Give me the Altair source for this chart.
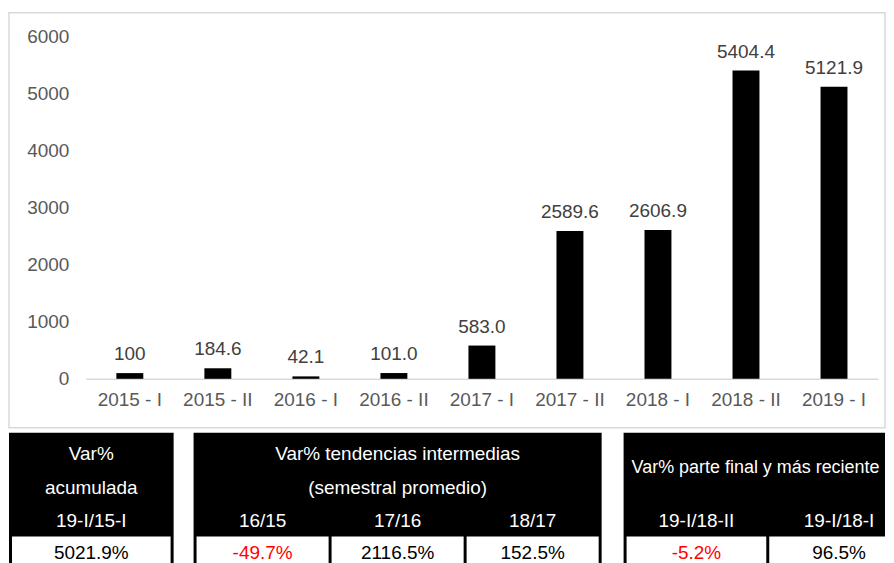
import altair as alt
import pandas as pd

FONT = "Liberation Sans"

periods = ["2015 - I", "2015 - II", "2016 - I", "2016 - II", "2017 - I",
           "2017 - II", "2018 - I", "2018 - II", "2019 - I"]
values = [100, 184.6, 42.1, 101.0, 583.0, 2589.6, 2606.9, 5404.4, 5121.9]
labels = ["100", "184.6", "42.1", "101.0", "583.0", "2589.6", "2606.9", "5404.4", "5121.9"]
y_ticks = [0, 1000, 2000, 3000, 4000, 5000, 6000]

acc_header = ["Var%", "acumulada"]
acc_cols = ["19-I/15-I"]
acc_vals = [5021.9]
mid_header = ["Var% tendencias intermedias", "(semestral promedio)"]
mid_cols = ["16/15", "17/16", "18/17"]
mid_vals = [-49.7, 2116.5, 152.5]
fin_header = ["Var% parte final y más reciente"]
fin_cols = ["19-I/18-II", "19-I/18-I"]
fin_vals = [-5.2, 96.5]

ROWS = ["r0", "r1", "r2", "r3"]
FS = 19

# ---------------- bar chart ----------------
bar_df = pd.DataFrame({"period": periods, "value": values, "label": labels})

x_enc = alt.X(
    "period:N", sort=periods,
    scale=alt.Scale(range=[77, 871], paddingInner=0, paddingOuter=0),
    axis=alt.Axis(title=None, labelAngle=0, offset=-49, ticks=False, tickSize=0,
                  domainColor="#d9d9d9", domainWidth=1.5, labelPadding=12,
                  labelFontSize=FS, labelColor="#595959"),
)
y_enc = alt.Y(
    "value:Q",
    scale=alt.Scale(domain=[-857, 6420], nice=False, zero=False),
    axis=alt.Axis(title=None, values=y_ticks, offset=-77, ticks=False, tickSize=0,
                  domain=False, grid=False, labelPadding=17, labelFontSize=FS,
                  labelColor="#595959", format="d"),
)

bars = alt.Chart(bar_df).mark_bar(size=27, color="black").encode(
    x=x_enc, y=y_enc, y2=alt.datum(0)
)
bar_text = alt.Chart(bar_df).mark_text(
    baseline="alphabetic", dy=-13, fontSize=FS, color="#404040"
).encode(x=alt.X("period:N", sort=periods), y="value:Q", text="label:N")

top = alt.layer(bars, bar_text).properties(
    width=878, height=416,
    view=alt.ViewBackground(stroke="#d9d9d9", strokeWidth=1.5, fill="white"),
)


# ---------------- table ----------------
def panel(cols, vals, width, xscale, headers, centered):
    cells = pd.DataFrame({"col": cols, "v": vals})
    x = alt.X("col:N", sort=cols, scale=xscale, axis=None)
    y = alt.Y("row:N", scale=alt.Scale(domain=ROWS, paddingInner=0, paddingOuter=0), axis=None)

    white = alt.Chart(cells).transform_calculate(row="'r3'").mark_rect(
        color="white", yOffset=2, clip=True
    ).encode(x=x, y=y)
    collab = alt.Chart(cells).transform_calculate(row="'r2'").mark_text(
        color="white", fontSize=FS, dy=4, clip=True
    ).encode(x=x, y=y, text="col:N")
    vtext = alt.Chart(cells).transform_calculate(
        row="'r3'",
        t="(datum.v < 0 ? '-' : '') + format(abs(datum.v), '.1f') + '%'",
    ).mark_text(fontSize=FS, dy=2, clip=True).encode(
        x=x, y=y, text="t:N",
        color=alt.condition("datum.v < 0", alt.value("#ff0000"), alt.value("black")),
    )
    hdf = pd.DataFrame({"h": headers, "row": ROWS[: len(headers)]})
    if centered:
        htext = alt.Chart(hdf).mark_text(
            color="white", fontSize=FS, dy=4, x=width / 2, clip=True
        ).encode(y=y, text="h:N")
    else:
        htext = alt.Chart(hdf).mark_text(
            color="white", fontSize=18, dy=18, x=8, align="left", clip=True
        ).encode(y=y, text="h:N")
    return alt.layer(white, collab, vtext, htext).properties(
        width=width, height=136,
        view=alt.ViewBackground(fill="black", stroke="black", strokeWidth=0),
    )


p1 = panel(acc_cols, acc_vals, 165,
           alt.Scale(paddingInner=0, paddingOuter=0.019), acc_header, True)
p2 = panel(mid_cols, mid_vals, 409,
           alt.Scale(paddingInner=0.022, paddingOuter=0.022), mid_header, True)
p3 = panel(fin_cols, fin_vals, 262,
           alt.Scale(range=[3, 286], paddingInner=0.021, paddingOuter=0), fin_header, False)

table = alt.hconcat(p1, alt.hconcat(p2, p3, spacing=22), spacing=20)

chart = alt.vconcat(top, table, spacing=4).properties(
    padding={"top": 3, "left": 0, "right": 0, "bottom": 0}
).configure(background="white").configure_text(font=FONT).configure_axis(labelFont=FONT)

chart.save("out.html", embed_options={"renderer": "svg", "actions": False})
